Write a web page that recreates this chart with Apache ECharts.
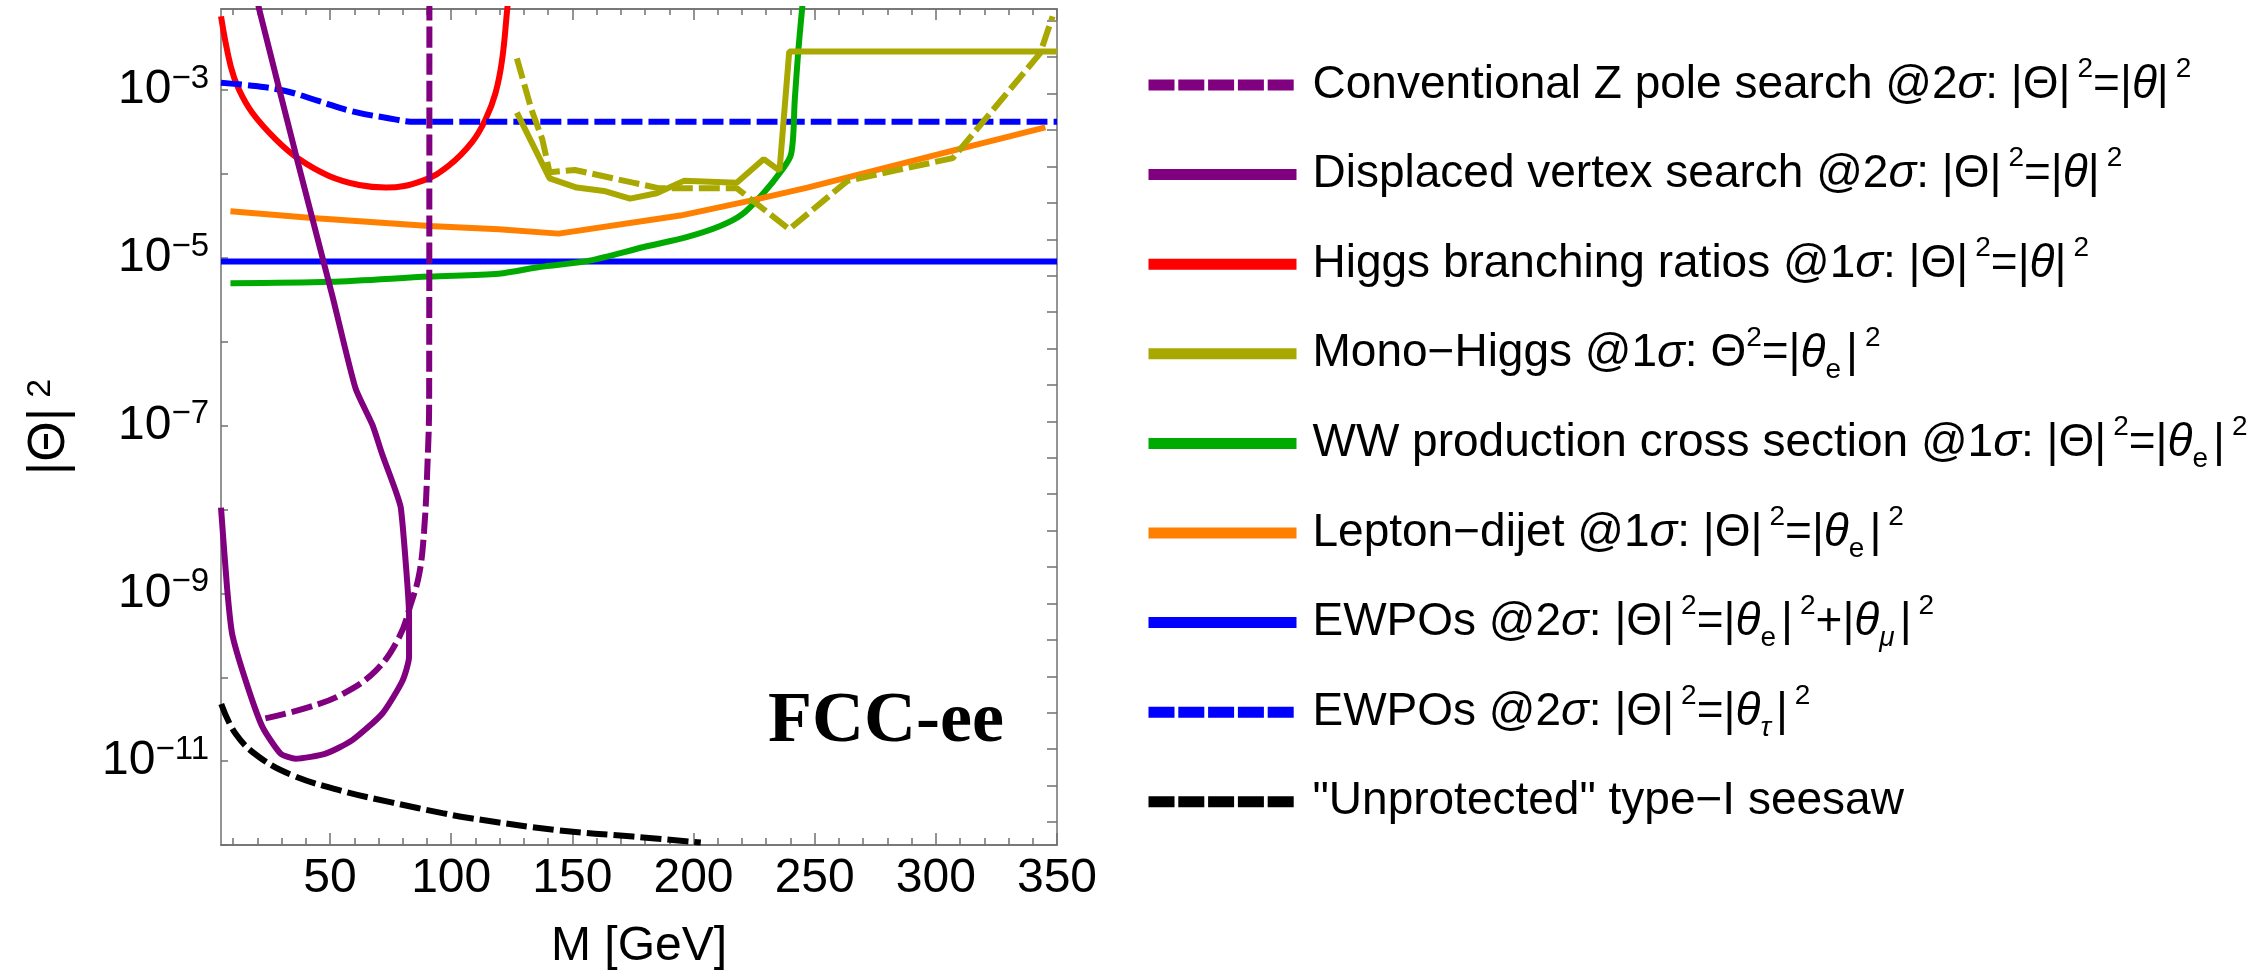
<!DOCTYPE html>
<html>
<head>
<meta charset="utf-8">
<script src="https://cdn.jsdelivr.net/npm/echarts@6/dist/echarts.min.js"></script>
<style>
  html, body { margin: 0; padding: 0; background: #fff; }
  #root { width: 2256px; height: 979px; }
</style>
</head>
<body>
<div id="root"></div>
<script>
// [M in GeV, |Theta|^2]
const zPoleSearch = [[91, 1.2e-2], [90.9, 2.1e-7], [90.2, 3.4e-8], [88.8, 5.5e-9], [86.8, 1.7e-9],
  [83.3, 7.4e-10], [78.5, 3.0e-10], [68.9, 1.2e-10], [55.1, 6.3e-11], [41.3, 4.4e-11], [22.7, 3.2e-11]]

const displacedVertex = [[20, 1.2e-2], [20.8, 9.1e-3], [36, 1.66e-4], [51, 3.5e-6], [60.5, 2.8e-7],
  [67.5, 1.02e-7], [71.6, 4.5e-8], [77.1, 1.66e-8], [79.2, 1.05e-8], [81.3, 2.2e-9], [82.6, 5.6e-10],
  [82.6, 1.74e-10], [79.9, 9.1e-11], [71.6, 3.7e-11], [59.2, 1.78e-11], [48.2, 1.23e-11],
  [35.8, 1.07e-11], [29.6, 1.23e-11], [22, 2.6e-11], [15.2, 9.1e-11], [9.6, 3.3e-10],
  [7.5, 1.17e-9], [5, 1.05e-8]]

const higgsBR = [[5, 7.6e-3], [9, 1.93e-3], [12.4, 1.02e-3], [17.9, 5.4e-4], [27.6, 2.6e-4],
  [37.2, 1.51e-4], [49.6, 9.5e-5], [62, 7.4e-5], [73, 6.9e-5], [88, 8.3e-5], [99, 1.26e-4],
  [108.6, 2.4e-4], [114.2, 4.5e-4], [118.3, 9.3e-4], [121, 2.3e-3], [123.1, 9.1e-3], [123.6, 1.3e-2]]

const monoHiggs = [[127.1, 5.4e-4], [140.6, 8.9e-5], [151.8, 6.9e-5], [163, 6.3e-5], [173.8, 5.1e-5],
  [184.8, 5.9e-5], [196, 8.3e-5], [217.8, 7.9e-5], [229, 1.51e-4], [235.5, 1.1e-4],
  [239.5, 2.9e-3], [350, 2.9e-3]]

const monoHiggsDashed = [[127.1, 2.4e-3], [133.1, 5.9e-4], [137.6, 2.6e-4], [140.6, 1.05e-4],
  [151, 1.12e-4], [175, 7.9e-5], [185.5, 6.8e-5], [217.8, 6.8e-5], [239.5, 2.2e-5],
  [263.5, 8.3e-5], [307, 1.55e-4], [343, 2.75e-3], [348.2, 7.6e-3]]

const wwCrossSection = [[8.9, 5.0e-6], [50, 5.2e-6], [90.9, 6.0e-6], [119.6, 6.5e-6], [136.4, 7.8e-6],
  [157, 9.3e-6], [179.5, 1.35e-5], [197.5, 1.78e-5], [211, 2.4e-5], [220, 3.3e-5], [229, 6.0e-5],
  [235.8, 1.05e-4], [240.3, 1.74e-4], [241.8, 7.8e-4], [243.3, 3.1e-3], [244.8, 9.3e-3], [245.3, 1.3e-2]]

const leptonDijet = [[8.9, 3.6e-5], [42.7, 3.0e-5], [90.9, 2.4e-5], [119.6, 2.2e-5], [144.3, 1.95e-5],
  [194.5, 3.2e-5], [224.5, 4.9e-5], [247, 6.9e-5], [307, 1.9e-4], [345.2, 3.6e-4]]

const ewpoEMu = [[5, 9.1e-6], [350, 9.1e-6]]

const ewpoTau = [[5, 1.23e-3], [19.2, 1.12e-3], [31.6, 9.8e-4], [45.5, 7.4e-4], [59.2, 5.6e-4],
  [73, 4.7e-4], [85.4, 4.2e-4], [350, 4.2e-4]]

const seesaw = [[5.1, 4.8e-11], [11.1, 2.1e-11], [20.7, 1.12e-11], [34.4, 6.8e-12], [55.1, 4.4e-12],
  [75.8, 3.2e-12], [96.4, 2.4e-12], [107.4, 2.1e-12], [143.7, 1.5e-12], [175, 1.26e-12], [203, 1.07e-12]]

// ticks
const xMajorTicks = [50, 100, 150, 200, 250, 300, 350]
const xMinorTicks = [10, 20, 30, 40, 60, 70, 80, 90, 110, 120, 130, 140, 160, 170, 180, 190,
  210, 220, 230, 240, 260, 270, 280, 290, 310, 320, 330, 340]
const yTickExponents = [-12, -11, -10, -9, -8, -7, -6, -5, -4, -3]
const yLabelExponents = [-11, -9, -7, -5, -3]
const rightTickLnExponents = [-5, -6, -7, -8, -9, -10, -11, -12, -13, -14, -15, -16, -17, -18,
  -19, -20, -21, -22, -23, -24, -25, -26, -27]

const legendNames = [
  'Conventional Z pole search', 'Displaced vertex search', 'Higgs branching ratios', 'Mono-Higgs',
  'WW production cross section', 'Lepton-dijet', 'EWPOs e mu', 'EWPOs tau', 'Unprotected seesaw'
]
const legendLabels = [
  'Conventional Z pole search @2{t|σ}: |Θ|{p|2}=|{t|θ}|{p|2}',
  'Displaced vertex search @2{t|σ}: |Θ|{p|2}=|{t|θ}|{p|2}',
  'Higgs branching ratios @1{t|σ}: |Θ|{p|2}=|{t|θ}|{p|2}',
  'Mono−Higgs @1{t|σ}: Θ{q|2}=|{t|θ}{b|e}|{p|2}',
  'WW production cross section @1{t|σ}: |Θ|{p|2}=|{t|θ}{b|e}|{p|2}',
  'Lepton−dijet @1{t|σ}: |Θ|{p|2}=|{t|θ}{b|e}|{p|2}',
  'EWPOs @2{t|σ}: |Θ|{p|2}=|{t|θ}{b|e}|{p|2}+|{t|θ}{bi|μ}|{p|2}',
  'EWPOs @2{t|σ}: |Θ|{p|2}=|{t|θ}{bi|τ}|{p|2}',
  '"Unprotected" type−I seesaw'
]

const PURPLE = '#800080', RED = '#ff0000', OLIVE = '#a8a800', GREEN = '#00aa00'
const ORANGE = '#ff8000', BLUE = '#0000ff', BLACK = '#000000'
const FONT = 'Liberation Sans'
const AXIS_GRAY = '#707070'

const chart = echarts.init(document.getElementById('root'), null, { renderer: 'canvas' })

function line(name, data, color, dashed, z, smooth) {
  return {
    type: 'line', name: name, data: data,
    xAxisIndex: 0, yAxisIndex: 0,
    symbol: 'none', showSymbol: false,
    smooth: smooth || false,
    lineStyle: { color: color, width: 6, type: dashed ? [21, 6] : 'solid' },
    itemStyle: { color: color },
    z: z || 2, animation: false
  }
}

const tickRich = {
  m: { fontFamily: FONT, fontSize: 48, color: '#000', lineHeight: 56 },
  s: { fontFamily: FONT, fontSize: 33, color: '#000', lineHeight: 26, verticalAlign: 'top' }
}

const legendRich = {
  t: { fontFamily: FONT, fontSize: 46, fontStyle: 'italic', color: '#000', lineHeight: 60 },
  p: { fontFamily: FONT, fontSize: 28, color: '#000', lineHeight: 38, verticalAlign: 'top', padding: [0, 0, 0, 7] },
  q: { fontFamily: FONT, fontSize: 28, color: '#000', lineHeight: 38, verticalAlign: 'top' },
  b: { fontFamily: FONT, fontSize: 28, color: '#000', lineHeight: 24, verticalAlign: 'bottom', padding: [0, 5, 0, 0] },
  bi: { fontFamily: FONT, fontSize: 28, fontStyle: 'italic', color: '#000', lineHeight: 24, verticalAlign: 'bottom', padding: [0, 5, 0, 0] }
}

function xAxisDef(position, ticks, len, labels) {
  return {
    type: 'value', position: position, min: 5, max: 350, gridIndex: 0,
    axisLine: { show: true, onZero: false, lineStyle: { color: AXIS_GRAY, width: 1.5 } },
    axisTick: { show: true, inside: true, length: len, customValues: ticks, lineStyle: { color: AXIS_GRAY, width: 1.5 } },
    axisLabel: labels ? {
      show: true, customValues: xMajorTicks, margin: 10,
      fontFamily: FONT, fontSize: 48, color: '#000'
    } : { show: false },
    splitLine: { show: false }
  }
}

const option = {
  backgroundColor: '#fff',
  animation: false,
  grid: { left: 221, top: 9, width: 836, height: 836 },
  xAxis: [
    Object.assign(xAxisDef('bottom', xMajorTicks, 12, true), {
      name: 'M [GeV]', nameLocation: 'middle', nameGap: 78,
      nameTextStyle: { fontFamily: FONT, fontSize: 48, color: '#000' }
    }),
    xAxisDef('bottom', xMinorTicks, 7, false),
    xAxisDef('top', xMajorTicks, 11, false),
    xAxisDef('top', xMinorTicks, 6, false)
  ],
  yAxis: [
    {
      type: 'log', logBase: 10, min: 1e-12, max: 0.0093, position: 'left',
      axisLine: { show: true, onZero: false, lineStyle: { color: AXIS_GRAY, width: 1.5 } },
      axisTick: { show: true, inside: true, length: 7,
        customValues: yTickExponents.map(e => Math.pow(10, e)),
        lineStyle: { color: AXIS_GRAY, width: 1.5 } },
      axisLabel: {
        show: true, margin: 12,
        customValues: yLabelExponents.map(e => Math.pow(10, e)),
        formatter: v => '{m|10}{s|−' + (-Math.round(Math.log10(v))) + '}',
        rich: tickRich
      },
      splitLine: { show: false },
      name: '|Θ|{s|2}', nameLocation: 'middle', nameGap: 145,
      nameTextStyle: { fontFamily: FONT, fontSize: 52, color: '#000',
        rich: { s: { fontFamily: FONT, fontSize: 34, color: '#000', lineHeight: 40, verticalAlign: 'top', padding: [0, 0, 0, 10] } } }
    },
    {
      type: 'log', logBase: 10, min: 1e-12, max: 0.0093, position: 'right',
      axisLine: { show: true, onZero: false, lineStyle: { color: AXIS_GRAY, width: 1.5 } },
      axisTick: { show: true, inside: true, length: 10,
        customValues: rightTickLnExponents.map(n => Math.exp(n)),
        lineStyle: { color: AXIS_GRAY, width: 1.5 } },
      axisLabel: { show: false },
      splitLine: { show: false }
    }
  ],
  legend: {
    orient: 'vertical', left: 1138, top: 50,
    itemWidth: 148, itemHeight: 14, itemGap: 29.6,
    itemStyle: { opacity: 0 },
    textStyle: { fontFamily: FONT, fontSize: 46, color: '#000', lineHeight: 60, padding: [0, 0, 0, 11], rich: legendRich },
    formatter: name => legendLabels[legendNames.indexOf(name)],
    selectedMode: false,
    data: legendNames.map((n, i) => ({
      name: n,
      lineStyle: { width: 11, type: [0, 7, 8].indexOf(i) >= 0 ? [26, 3.8] : 'solid' }
    }))
  },
  graphic: [{
    type: 'text', left: 768, top: 686,
    style: { text: 'FCC-ee', font: 'bold 72px "Liberation Serif"', fill: '#000' }
  }],
  series: [
    line('Higgs branching ratios', higgsBR, RED, false, 3, 0.4),
    line('EWPOs e mu', ewpoEMu, BLUE, false, 3),
    line('EWPOs tau', ewpoTau, BLUE, true, 3, 0.4),
    line('WW production cross section', wwCrossSection, GREEN, false, 4, 0.3),
    line('Lepton-dijet', leptonDijet, ORANGE, false, 4),
    line('Mono-Higgs', monoHiggs, OLIVE, false, 5),
    line('Mono-Higgs dashed', monoHiggsDashed, OLIVE, true, 5),
    line('Displaced vertex search', displacedVertex, PURPLE, false, 6, 0.2),
    line('Conventional Z pole search', zPoleSearch, PURPLE, true, 6, 0.4),
    line('Unprotected seesaw', seesaw, BLACK, true, 6, 0.4)
  ]
}

chart.setOption(option)
</script>
</body>
</html>
